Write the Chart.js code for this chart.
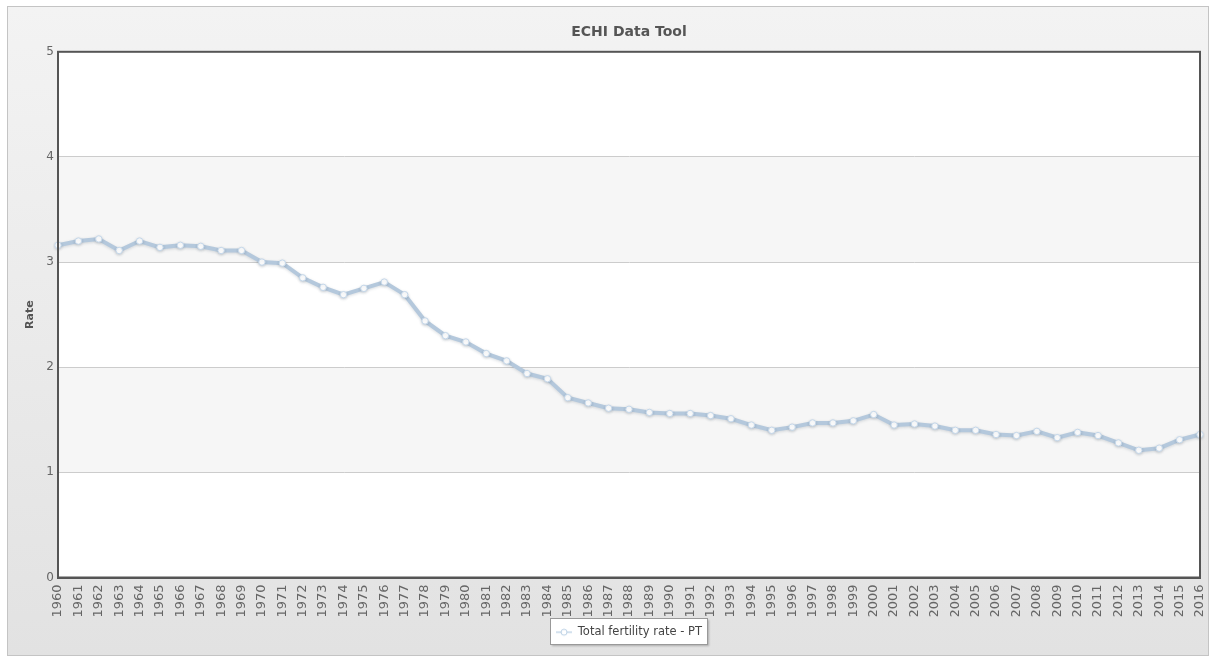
<!DOCTYPE html>
<html>
<head>
<meta charset="utf-8">
<script src="https://cdn.jsdelivr.net/npm/chart.js@4/dist/chart.umd.min.js"></script>
<style>
  html, body { margin: 0; padding: 0; background: #fff; }
  #frame {
    position: absolute; left: 7px; top: 6px; width: 1200px; height: 648px;
    border: 1px solid #c4c4c4;
    background: linear-gradient(#f3f3f3, #e2e2e2);
  }
  #wrap { position: absolute; left: 0; top: 0; width: 1211px; height: 656px; }
</style>
</head>
<body>
<div id="frame"></div>
<div id="wrap"><canvas id="chart"></canvas></div>
<script>
// ---------------------------
// Data
// ---------------------------
const years = [
  '1960','1961','1962','1963','1964','1965','1966','1967','1968','1969',
  '1970','1971','1972','1973','1974','1975','1976','1977','1978','1979',
  '1980','1981','1982','1983','1984','1985','1986','1987','1988','1989',
  '1990','1991','1992','1993','1994','1995','1996','1997','1998','1999',
  '2000','2001','2002','2003','2004','2005','2006','2007','2008','2009',
  '2010','2011','2012','2013','2014','2015','2016'
];
const fertilityPT = [
  3.16, 3.20, 3.22, 3.11, 3.20, 3.14, 3.16, 3.15, 3.11, 3.11,
  3.00, 2.99, 2.85, 2.76, 2.69, 2.75, 2.81, 2.69, 2.44, 2.30,
  2.24, 2.13, 2.06, 1.94, 1.89, 1.71, 1.66, 1.61, 1.60, 1.57,
  1.56, 1.56, 1.54, 1.51, 1.45, 1.40, 1.43, 1.47, 1.47, 1.49,
  1.55, 1.45, 1.46, 1.44, 1.40, 1.40, 1.36, 1.35, 1.39, 1.33,
  1.38, 1.35, 1.28, 1.21, 1.23, 1.31, 1.36
];
const yTicks = [0, 1, 2, 3, 4, 5];
const seriesLabel = 'Total fertility rate - PT';
const chartTitle = 'ECHI Data Tool';
const yTitle = 'Rate';

const FONT = '"DejaVu Sans", Verdana, sans-serif';
const LINE_COLOR = '#b4c8dc';

// ---------------------------
// Legend symbol (line + hollow marker)
// ---------------------------
function legendSymbol() {
  const c = document.createElement('canvas');
  c.width = 16; c.height = 10;
  const g = c.getContext('2d');
  g.strokeStyle = '#d3e1ee';
  g.lineWidth = 2;
  g.beginPath(); g.moveTo(0, 5); g.lineTo(16, 5); g.stroke();
  g.fillStyle = '#fff';
  g.strokeStyle = '#b9cfe4';
  g.lineWidth = 1;
  g.beginPath(); g.arc(8, 5, 3, 0, Math.PI * 2); g.fill(); g.stroke();
  return c;
}

// ---------------------------
// Plugins
// ---------------------------
const plotBackground = {
  id: 'plotBackground',
  beforeDraw(chart) {
    const { ctx, chartArea: a, scales: { y } } = chart;
    ctx.save();
    ctx.fillStyle = '#fff';
    ctx.fillRect(a.left, a.top, a.right - a.left, a.bottom - a.top);
    ctx.fillStyle = '#f6f6f6';
    [[1, 2], [3, 4]].forEach(([lo, hi]) => {
      const top = y.getPixelForValue(hi);
      const bot = y.getPixelForValue(lo);
      ctx.fillRect(a.left, top, a.right - a.left, bot - top);
    });
    ctx.restore();
  }
};

const plotBorder = {
  id: 'plotBorder',
  afterDraw(chart) {
    const { ctx, chartArea: a } = chart;
    ctx.save();
    ctx.strokeStyle = '#555';
    ctx.lineWidth = 2;
    ctx.strokeRect(a.left, a.top, a.right - a.left, a.bottom - a.top);
    // legend frame
    const hb = chart.legend.legendHitBoxes[0];
    if (hb) {
      const x = Math.round(hb.left) - 5.5, yy = Math.round(hb.top) - 8.5;
      const w = Math.round(hb.width) + 11, h = Math.round(hb.height) + 14;
      ctx.shadowColor = 'rgba(0,0,0,0.25)';
      ctx.shadowBlur = 2; ctx.shadowOffsetX = 1; ctx.shadowOffsetY = 1;
      ctx.fillStyle = '#fff';
      ctx.fillRect(x, yy, w, h);
      ctx.shadowColor = 'transparent';
      ctx.strokeStyle = '#999';
      ctx.lineWidth = 1;
      ctx.strokeRect(x, yy, w, h);
    }
    ctx.restore();
  }
};

// redraw legend on top of its frame
const legendOnTop = {
  id: 'legendOnTop',
  afterDraw(chart) { chart.legend.draw(); }
};

const lineShadow = {
  id: 'lineShadow',
  beforeDatasetDraw(chart) {
    const ctx = chart.ctx;
    ctx.save();
    ctx.shadowColor = 'rgba(60,80,100,0.2)';
    ctx.shadowBlur = 3;
    ctx.shadowOffsetY = 1;
  },
  afterDatasetDraw(chart) { chart.ctx.restore(); }
};

// ---------------------------
// Chart
// ---------------------------
new Chart(document.getElementById('chart'), {
  type: 'line',
  data: {
    labels: years,
    datasets: [{
      label: seriesLabel,
      data: fertilityPT,
      borderColor: LINE_COLOR,
      borderWidth: 4,
      tension: 0,
      pointStyle: 'circle',
      pointRadius: 3.2,
      pointBackgroundColor: '#fff',
      pointBorderColor: '#c4d7ea',
      pointBorderWidth: 1
    }]
  },
  options: {
    responsive: true,
    maintainAspectRatio: false,
    animation: false,
    layout: { padding: { left: 14, right: 11, top: 0, bottom: 8 } },
    scales: {
      x: {
        grid: { display: false, drawTicks: false },
        border: { color: '#555', width: 2 },
        ticks: {
          autoSkip: false, maxRotation: 90, minRotation: 90, padding: 7,
          color: '#666', font: { family: FONT, size: 13 }
        },
        afterFit(scale) {
          scale.height = 39;
          scale.paddingLeft = 0;
          scale.paddingRight = 0;
        }
      },
      y: {
        min: 0, max: 5,
        afterBuildTicks(scale) { scale.ticks = yTicks.map(v => ({ value: v })); },
        grid: { color: '#cccccc', lineWidth: 1, drawTicks: false },
        border: { color: '#555', width: 2 },
        ticks: { padding: 4, color: '#666', font: { family: FONT, size: 12 } },
        title: {
          display: true, text: yTitle, color: '#555',
          padding: { top: 10, bottom: 0 },
          font: { family: FONT, size: 11, weight: 'bold' }
        },
        afterFit(scale) { scale.width = 44; }
      }
    },
    plugins: {
      title: {
        display: true, text: chartTitle, fullSize: false, color: '#555',
        padding: { top: 24, bottom: 11 },
        font: { family: FONT, size: 14, weight: 'bold' }
      },
      legend: {
        position: 'bottom', fullSize: false,
        labels: {
          usePointStyle: true, pointStyle: legendSymbol(), pointStyleWidth: 16, padding: 10,
          color: '#444', font: { family: FONT, size: 11.5 }
        }
      },
      tooltip: { enabled: false }
    }
  },
  plugins: [plotBackground, lineShadow, plotBorder, legendOnTop]
});
</script>
</body>
</html>
